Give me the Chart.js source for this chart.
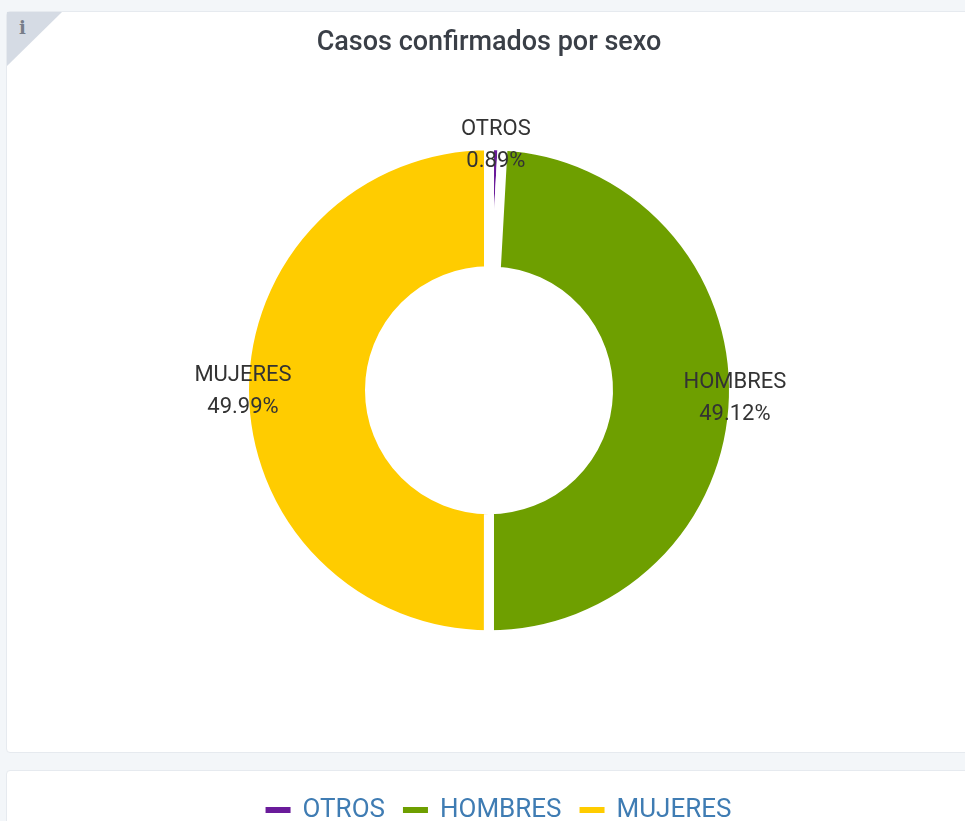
<!DOCTYPE html>
<html><head><meta charset="utf-8">
<style>
html,body{margin:0;padding:0;width:965px;height:821px;overflow:hidden;background:#f3f6f9}
.card{position:absolute;background:#fff;border:1px solid #e6eaef;border-radius:4px;box-sizing:border-box}
#c1{left:6px;top:11px;width:1000px;height:742px}
#c2{left:6px;top:770px;width:1000px;height:100px}
#tri{position:absolute;left:7px;top:12px;width:0;height:0;border-top:54px solid #d5dbe4;border-right:55px solid transparent}
#info{position:absolute;left:19px;top:17px;font:bold 18px "DejaVu Serif",serif;color:#777d88}
canvas{position:absolute;left:0;top:0}
</style></head><body>
<div class="card" id="c1"></div><div class="card" id="c2"></div>
<div id="tri"></div><div id="info">i</div>
<canvas id="chart" width="978" height="821" style="width:978px;height:821px"></canvas>
<script src="https://cdn.jsdelivr.net/npm/chart.js@4"></script>
<script>
const categories = ["OTROS", "HOMBRES", "MUJERES"];
const shareValues = [0.89, 49.12, 49.99];
const sliceColors = ["#6a1b9a", "#6e9f00", "#ffcc00"];
const chartTitle = "Casos confirmados por sexo";

const sliceLabels = {
  id: "sliceLabels",
  afterDatasetsDraw(chart) {
    const ctx = chart.ctx;
    const meta = chart.getDatasetMeta(0);
    ctx.save();
    ctx.font = "22px Roboto";
    ctx.fillStyle = "#333333";
    ctx.textAlign = "center";
    ctx.textBaseline = "middle";
    meta.data.forEach((arc, i) => {
      const mid = (arc.startAngle + arc.endAngle) / 2;
      const r = arc.outerRadius + 1;
      const x = arc.x + Math.cos(mid) * r;
      const y = arc.y + Math.sin(mid) * r;
      ctx.fillText(categories[i], x, y - 15);
      ctx.fillText(shareValues[i].toFixed(2) + "%", x, y + 17);
    });
    ctx.restore();
  }
};
const shiftLegend = {
  id: "shiftLegend",
  afterLayout(chart) {
    chart.legend.left += 10;
    chart.legend.right += 10;
    chart.legend.top += 57;
    chart.legend.bottom += 57;
  }
};

new Chart(document.getElementById("chart"), {
  type: "doughnut",
  data: {
    labels: categories,
    datasets: [{
      data: shareValues,
      backgroundColor: sliceColors,
      borderColor: "#ffffff",
      borderWidth: 10,
      radius: 245,
      cutout: "48.57%"
    }]
  },
  options: {
    responsive: false,
    animation: false,
    layout: { padding: { top: 27, bottom: 45 } },
    plugins: {
      title: {
        display: true,
        text: chartTitle,
        color: "#3a3f47",
        font: { family: "Roboto", size: 27, weight: "500" },
        padding: { top: 0, bottom: 0 }
      },
      legend: {
        position: "bottom",
        labels: {
          boxWidth: 23,
          boxHeight: 4,
          padding: 19,
          color: "#3f7cb3",
          font: { family: "Roboto", size: 26 },
          generateLabels(chart) {
            return categories.map((t, i) => ({
              text: t, fillStyle: sliceColors[i], strokeStyle: sliceColors[i],
              lineWidth: 2, hidden: false, index: i, fontColor: "#3f7cb3"
            }));
          }
        }
      },
      tooltip: { enabled: false }
    }
  },
  plugins: [sliceLabels, shiftLegend]
});
</script>
</body></html>
